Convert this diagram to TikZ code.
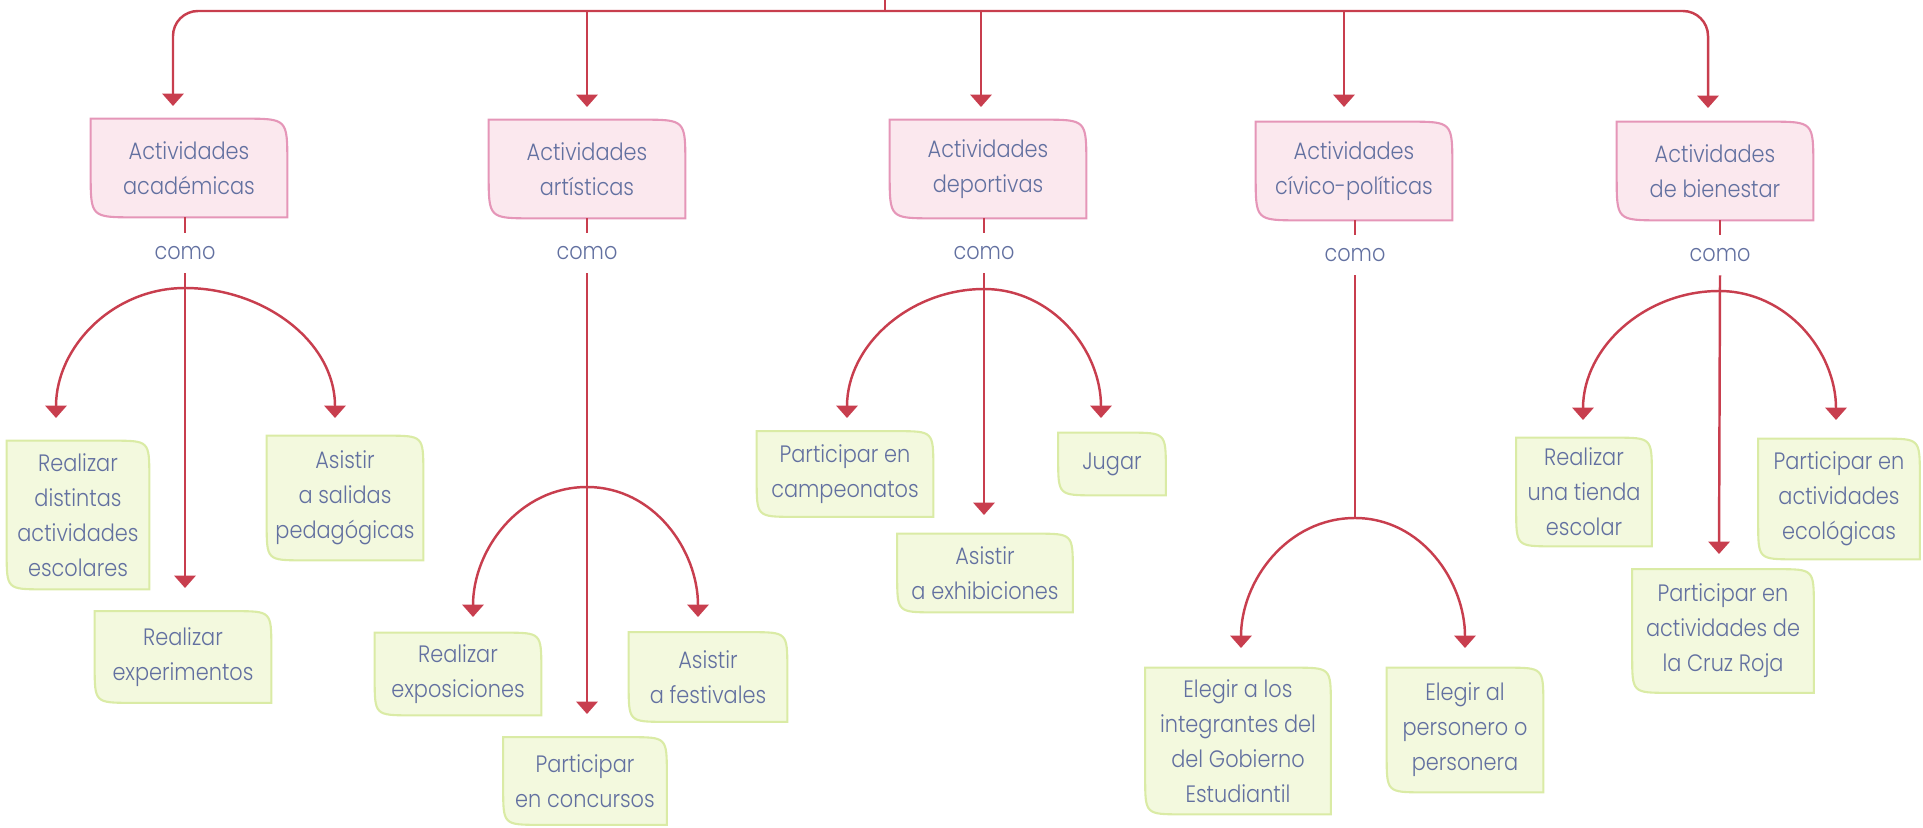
\documentclass[tikz,border=0pt]{standalone}
\usepackage{fontspec}
\setmainfont{Poppins}[UprightFont=* Light, FakeStretch=0.88]
\usetikzlibrary{arrows.meta,backgrounds}

\definecolor{linkred}{RGB}{200,62,78}
\definecolor{pinkfill}{RGB}{251,232,238}
\definecolor{pinkline}{RGB}{229,150,184}
\definecolor{greenfill}{RGB}{243,249,222}
\definecolor{greenline}{RGB}{218,235,165}
\definecolor{bluetext}{RGB}{98,112,160}

\begin{document}
\begin{tikzpicture}[x=0.02cm, y=-0.02cm,
                    every node/.style={font=\fontsize{13.5}{19.9}\selectfont, text=bluetext, align=center, inner sep=0pt},
                    link/.style={draw=linkred, line width=1.4pt}, arrow/.style={link, -{Triangle[width=12pt, length=7pt]}},
                    word/.style={minimum height=0.8cm},
                    pinkedge/.style={draw=pinkline, fill=pinkfill, line width=1.2pt},
                    greenedge/.style={draw=greenline, fill=greenfill, line width=1.2pt}]

\useasboundingbox (0,0) rectangle (1923,828);

% Top row
\node[minimum width=3.92cm, minimum height=1.96cm] (p1) at (189,168) {Actividades\\académicas};
\node[minimum width=3.92cm, minimum height=1.96cm] (p2) at (587,169) {Actividades\\artísticas};
\node[minimum width=3.92cm, minimum height=1.96cm] (p3) at (988,169) {Actividades\\deportivas};
\node[minimum width=3.92cm, minimum height=1.96cm] (p4) at (1354,171) {Actividades\\cívico-políticas};
\node[minimum width=3.92cm, minimum height=1.96cm] (p5) at (1715,171) {Actividades\\de bienestar};

\node[word] (k1) at (185,253) {como};
\node[word] (k2) at (587,253) {como};
\node[word] (k3) at (984,253) {como};
\node[word] (k4) at (1355,255) {como};
\node[word] (k5) at (1720,255) {como};

% Bottom row
\node[minimum width=2.84cm, minimum height=2.96cm] (a1) at (78,515) {Realizar\\distintas\\actividades\\escolares};
\node[minimum width=3.12cm, minimum height=2.48cm] (a2) at (345,498) {Asistir\\a salidas\\pedagógicas};
\node[minimum width=3.52cm, minimum height=1.82cm] (a3) at (183,657) {Realizar\\experimentos};

\node[minimum width=3.32cm, minimum height=1.64cm] (b1) at (458,674) {Realizar\\exposiciones};
\node[minimum width=3.16cm, minimum height=1.78cm] (b2) at (708,677) {Asistir\\a festivales};
\node[minimum width=3.26cm, minimum height=1.74cm] (b3) at (585,781) {Participar\\en concursos};

\node[minimum width=3.52cm, minimum height=1.70cm] (c1) at (845,474) {Participar en\\campeonatos};
\node[minimum width=2.14cm, minimum height=1.24cm] (c2) at (1112,464) {Jugar};
\node[minimum width=3.50cm, minimum height=1.56cm] (c3) at (985,573) {Asistir\\a exhibiciones};

\node[minimum width=3.70cm, minimum height=2.92cm] (d1) at (1238,741) {Elegir a los\\integrantes del\\del Gobierno\\Estudiantil};
\node[minimum width=3.12cm, minimum height=2.48cm] (d2) at (1465,730) {Elegir al\\personero o\\personera};

\node[minimum width=2.70cm, minimum height=2.16cm] (e1) at (1584,492) {Realizar\\una tienda\\escolar};
\node[minimum width=3.22cm, minimum height=2.40cm] (e2) at (1839,499) {Participar en\\actividades\\ecológicas};
\node[minimum width=3.62cm, minimum height=2.46cm] (e3) at (1723,631) {Participar en\\actividades de\\la Cruz Roja};

% Box outlines (two rounded corners)
\begin{scope}[on background layer]
    \foreach \n in {p1,p2,p3,p4,p5} {
        \draw[pinkedge] (\n.north west) -- ([xshift=-25pt]\n.north east) .. controls (\n.north east) .. ([yshift=-25pt]\n.north east)
            -- (\n.south east) -- ([xshift=25pt]\n.south west) .. controls (\n.south west) .. ([yshift=25pt]\n.south west) -- cycle;
    }
    \foreach \n in {a1,a2,a3,b1,b2,b3,c1,c2,c3,d1,d2,e1,e2,e3} {
        \draw[greenedge] (\n.north west) -- ([xshift=-21pt]\n.north east) .. controls (\n.north east) .. ([yshift=-21pt]\n.north east)
            -- (\n.south east) -- ([xshift=21pt]\n.south west) .. controls (\n.south west) .. ([yshift=21pt]\n.south west) -- cycle;
    }
\end{scope}

% Tips and junctions
\coordinate (top) at (885,0);
\coordinate (bus) at (885,11);
\coordinate (s1) at (173,106);
\coordinate (s2) at (587,107);
\coordinate (s3) at (981,107);
\coordinate (s4) at (1344,107);
\coordinate (s5) at (1708,108);

\coordinate (j1) at (185,288);
\coordinate (j2) at (587,487);
\coordinate (j3) at (984,289);
\coordinate (j4) at (1355,518);
\coordinate (j5) at (1719,291);

\coordinate (t1l) at (56,418);   \coordinate (t1r) at (335,418);  \coordinate (t1c) at (185,588);
\coordinate (t2l) at (473,617);  \coordinate (t2r) at (698,617);  \coordinate (t2c) at (587,714);
\coordinate (t3l) at (847,418);  \coordinate (t3r) at (1101,418); \coordinate (t3c) at (984,515);
\coordinate (t4l) at (1241,648); \coordinate (t4r) at (1465,648);
\coordinate (t5l) at (1583,420); \coordinate (t5r) at (1836,420); \coordinate (t5c) at (1719,554);

% Top bus
\draw[link] (top) -- (bus);
\draw[arrow, rounded corners=0.5cm] (bus) -| (s1);
\draw[arrow, rounded corners=0.5cm] (bus) -| (s5);
\foreach \s in {s2,s3,s4} {
    \draw[arrow] (bus -| \s) -- (\s);
}

% Stems to "como"
\foreach \i in {1,...,5} {
    \draw[link] (p\i.south -| k\i) -- (k\i.north);
}

% Branches
\draw[arrow] (k1.south) -- (t1c);
\draw[arrow] (j1) to[out=180, in=90] (t1l);
\draw[arrow] (j1) to[out=0, in=90] (t1r);

\draw[arrow] (k2.south) -- (t2c);
\draw[arrow] (j2) to[out=180, in=90] (t2l);
\draw[arrow] (j2) to[out=0, in=90] (t2r);

\draw[arrow] (k3.south) -- (t3c);
\draw[arrow] (j3) to[out=180, in=90] (t3l);
\draw[arrow] (j3) to[out=0, in=90] (t3r);

\draw[link] (k4.south) -- (j4);
\draw[arrow] (j4) to[out=180, in=90] (t4l);
\draw[arrow] (j4) to[out=0, in=90] (t4r);

\draw[arrow] (k5.south) -- (t5c);
\draw[arrow] (j5) to[out=180, in=90] (t5l);
\draw[arrow] (j5) to[out=0, in=90] (t5r);

\end{tikzpicture}
\end{document}
